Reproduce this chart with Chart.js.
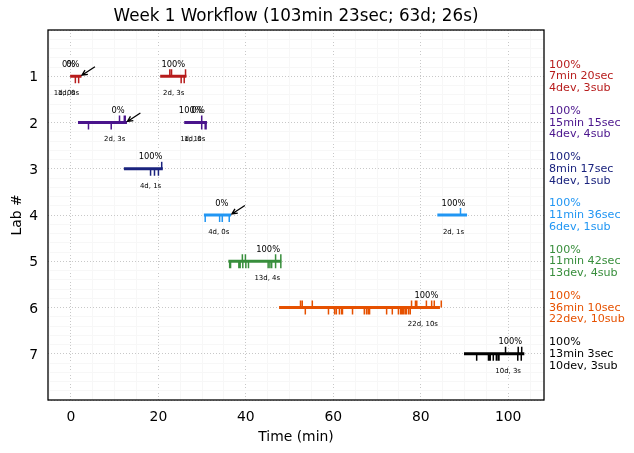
<!DOCTYPE html>
<html>
<head>
<meta charset="utf-8">
<style>
  html, body { margin: 0; padding: 0; background: #fff; }
  canvas { display: block; }
</style>
<script src="https://cdn.jsdelivr.net/npm/chart.js@4"></script>
</head>
<body>
<canvas id="workflow" width="634" height="453"></canvas>
<script>
/* Data */
const chartTitle = 'Week 1 Workflow (103min 23sec; 63d; 26s)';
const labs = [1, 2, 3, 4, 5, 6, 7];
const labColors = ['#b71c1c', '#4a148c', '#1a237e', '#2196f3', '#388e3c', '#e65100', '#000000'];
const labSummaries = [
    ['100%', '7min 20sec', '4dev, 3sub'],
    ['100%', '15min 15sec', '4dev, 4sub'],
    ['100%', '8min 17sec', '4dev, 1sub'],
    ['100%', '11min 36sec', '6dev, 1sub'],
    ['100%', '11min 42sec', '13dev, 4sub'],
    ['100%', '36min 10sec', '22dev, 10sub'],
    ['100%', '13min 3sec', '10dev, 3sub']
];

// Work sessions: one [start, end] per bar, per lab
const sessions = [
    [[-0.2, 2.4], [20.4, 26.4]],
    [[1.6, 12.8], [25.9, 31.1]],
    [[12.1, 21.0]],
    [[30.4, 36.6], [83.8, 90.6]],
    [[36.0, 48.1]],
    [[47.6, 84.4]],
    [[89.9, 103.7]]
];
// Commit times: submissions go above the bar, developments below
const subTimes = [
    [22.6, 23.0, 26.2],
    [11.1, 12.2, 12.4, 29.9],
    [20.75],
    [89.1],
    [39.2, 39.9, 46.8, 48.0],
    [52.5, 52.9, 55.2, 77.9, 78.8, 79.1, 81.3, 82.5, 83.1, 84.7],
    [99.4, 102.3, 103.1]
];
const devTimes = [
    [1.0, 1.75, 25.2, 25.9],
    [4.0, 9.2, 29.9, 30.7, 30.9],
    [18.2, 19.1, 20.0],
    [30.7, 34.0, 34.6, 36.2],
    [36.3, 36.5, 38.4, 38.7, 39.3, 40.0, 40.6, 45.1, 45.5, 45.9, 46.8, 48.0],
    [53.6, 58.9, 60.3, 60.7, 61.4, 61.9, 62.1, 64.4, 67.1, 67.6, 68.0, 68.3, 72.2, 73.5, 74.9, 75.4, 75.7, 76.0, 76.4, 76.7, 77.2, 77.6],
    [92.8, 95.5, 95.7, 95.9, 96.6, 97.3, 97.7, 97.9, 102.2, 103.0]
];
// Small notes: [lab, time, text]
const scoreNotes = [
    [1, -0.55, '0%'], [1, 0.4, '0%'], [1, 23.4, '100%'],
    [2, 10.75, '0%'], [2, 27.4, '100%'], [2, 29.1, '0%'],
    [3, 18.2, '100%'],
    [4, 34.5, '0%'], [4, 87.5, '100%'],
    [5, 45.1, '100%'],
    [6, 81.3, '100%'],
    [7, 100.5, '100%']
];
const timeNotes = [
    [1, -1.5, '1d, 0s'], [1, -0.6, '1d, 0s'], [1, 23.5, '2d, 3s'],
    [2, 10.0, '2d, 3s'], [2, 27.4, '1d, 1s'], [2, 28.3, '1d, 0s'],
    [3, 18.2, '4d, 1s'],
    [4, 33.8, '4d, 0s'], [4, 87.5, '2d, 1s'],
    [5, 44.9, '13d, 4s'],
    [6, 80.5, '22d, 10s'],
    [7, 100.0, '10d, 3s']
];
// Arrows point at the end of the sessions that scored 0%: [lab, time]
const arrowTips = [[1, 2.5], [2, 12.9], [4, 36.8]];

const xGridValues = [-5, 0, 5, 10, 15, 20, 25, 30, 35, 40, 45, 50, 55, 60, 65, 70, 75, 80, 85, 90, 95, 100, 105];
const yGridValues = [0, 0.2, 0.4, 0.6, 0.8, 1, 1.2, 1.4, 1.6, 1.8, 2, 2.2, 2.4, 2.6, 2.8, 3, 3.2, 3.4, 3.6, 3.8, 4, 4.2, 4.4, 4.6, 4.8, 5, 5.2, 5.4, 5.6, 5.8, 6, 6.2, 6.4, 6.6, 6.8, 7, 7.2, 7.4, 7.6, 7.8, 8];

const FONT = '"DejaVu Sans"';
const TICK_REACH = 0.15;

/* Datasets */
function tickSegments(times, y, reach) {
    const points = [];
    times.forEach((t) => {
        points.push({x: t, y: y}, {x: t, y: y + reach}, {x: t, y: null});
    });
    return points;
}

const datasets = [];
labs.forEach((lab, i) => {
    const line = {showLine: true, pointRadius: 0, borderColor: labColors[i], borderCapStyle: 'butt'};
    datasets.push({...line, borderWidth: 1.5, data: tickSegments(subTimes[i], lab, -TICK_REACH)});
    datasets.push({...line, borderWidth: 1.5, data: tickSegments(devTimes[i], lab, TICK_REACH)});
    sessions[i].forEach((s) => {
        datasets.push({...line, borderWidth: 3, data: [{x: s[0], y: lab}, {x: s[1], y: lab}]});
    });
});

/* Title, frame, notes, arrows and the summaries to the right of the axes */
const annotations = {
    id: 'annotations',
    afterDraw(chart) {
        const {ctx, chartArea, scales} = chart;
        const xs = scales.x;
        const ys = scales.y;
        ctx.save();
        ctx.strokeStyle = '#000';
        ctx.lineWidth = 1.3;
        ctx.strokeRect(chartArea.left, chartArea.top, chartArea.width, chartArea.height);

        ctx.fillStyle = '#000';
        ctx.textAlign = 'center';
        ctx.textBaseline = 'middle';
        ctx.font = '16.75px ' + FONT;
        ctx.fillText(chartTitle, (chartArea.left + chartArea.right) / 2, 17);

        ctx.font = '8.33px ' + FONT;
        scoreNotes.forEach((n) => ctx.fillText(n[2], xs.getPixelForValue(n[1]), ys.getPixelForValue(n[0]) - 11.5));
        ctx.font = '6.94px ' + FONT;
        timeNotes.forEach((n) => ctx.fillText(n[2], xs.getPixelForValue(n[1]), ys.getPixelForValue(n[0]) + 17));

        arrowTips.forEach((a) => {
            const tipX = xs.getPixelForValue(a[1]);
            const tipY = ys.getPixelForValue(a[0]) - 1;
            const tailX = tipX + 13;
            const tailY = tipY - 8.5;
            const angle = Math.atan2(tailY - tipY, tailX - tipX);
            ctx.strokeStyle = '#000';
            ctx.lineWidth = 1.3;
            ctx.beginPath();
            ctx.moveTo(tailX, tailY);
            ctx.lineTo(tipX, tipY);
            ctx.moveTo(tipX + 6 * Math.cos(angle - 0.45), tipY + 6 * Math.sin(angle - 0.45));
            ctx.lineTo(tipX, tipY);
            ctx.lineTo(tipX + 6 * Math.cos(angle + 0.45), tipY + 6 * Math.sin(angle + 0.45));
            ctx.stroke();
        });

        ctx.textAlign = 'left';
        ctx.font = '11.11px ' + FONT;
        labs.forEach((lab, i) => {
            ctx.fillStyle = labColors[i];
            labSummaries[i].forEach((text, row) => {
                ctx.fillText(text, chartArea.right + 5, ys.getPixelForValue(lab) + 0.3 + (row - 1) * 11.7);
            });
        });
        ctx.restore();
    }
};

function gridColor(ctx) {
    return Number.isInteger(ctx.tick.value / ctx.scale.options.majorEvery) ? '#c8c8c8' : '#f7f7f7';
}
function gridDash(ctx) {
    return Number.isInteger(ctx.tick.value / ctx.scale.options.majorEvery) ? [1, 2] : [];
}

new Chart('workflow', {
    type: 'scatter',
    data: {datasets: datasets},
    options: {
        responsive: false,
        animation: false,
        devicePixelRatio: 1,
        layout: {padding: {top: 30, right: 90}},
        plugins: {
            legend: {display: false},
            tooltip: {enabled: false},
            title: {display: false}
        },
        scales: {
            x: {
                type: 'linear',
                min: -5.26,
                max: 108.2,
                majorEvery: 20,
                afterBuildTicks(scale) { scale.ticks = xGridValues.map((v) => ({value: v})); },
                afterFit(scale) { scale.height = 53; },
                border: {display: false, dash: gridDash},
                grid: {color: gridColor, lineWidth: 1, drawTicks: false},
                ticks: {
                    color: '#000',
                    font: {family: FONT, size: 13.9},
                    padding: 9,
                    autoSkip: false,
                    maxRotation: 0,
                    callback: (v) => (v % 20 === 0 ? v : '')
                },
                title: {display: true, text: 'Time (min)', color: '#000', font: {family: FONT, size: 13.9}, padding: {top: 0, bottom: 7}}
            },
            y: {
                type: 'linear',
                min: 0,
                max: 8,
                reverse: true,
                majorEvery: 1,
                afterBuildTicks(scale) { scale.ticks = yGridValues.map((v) => ({value: v})); },
                afterFit(scale) { scale.width = 48; },
                border: {display: false, dash: gridDash},
                grid: {color: gridColor, lineWidth: 1, drawTicks: false},
                ticks: {
                    color: '#000',
                    font: {family: FONT, size: 13.9},
                    padding: 10,
                    labelOffset: 1.5,
                    autoSkip: false,
                    callback: (v) => (labs.includes(v) ? v : '')
                },
                title: {display: true, text: 'Lab #', color: '#000', font: {family: FONT, size: 13.9}, padding: {top: 9, bottom: 0}}
            }
        }
    },
    plugins: [annotations]
});
</script>
</body>
</html>
